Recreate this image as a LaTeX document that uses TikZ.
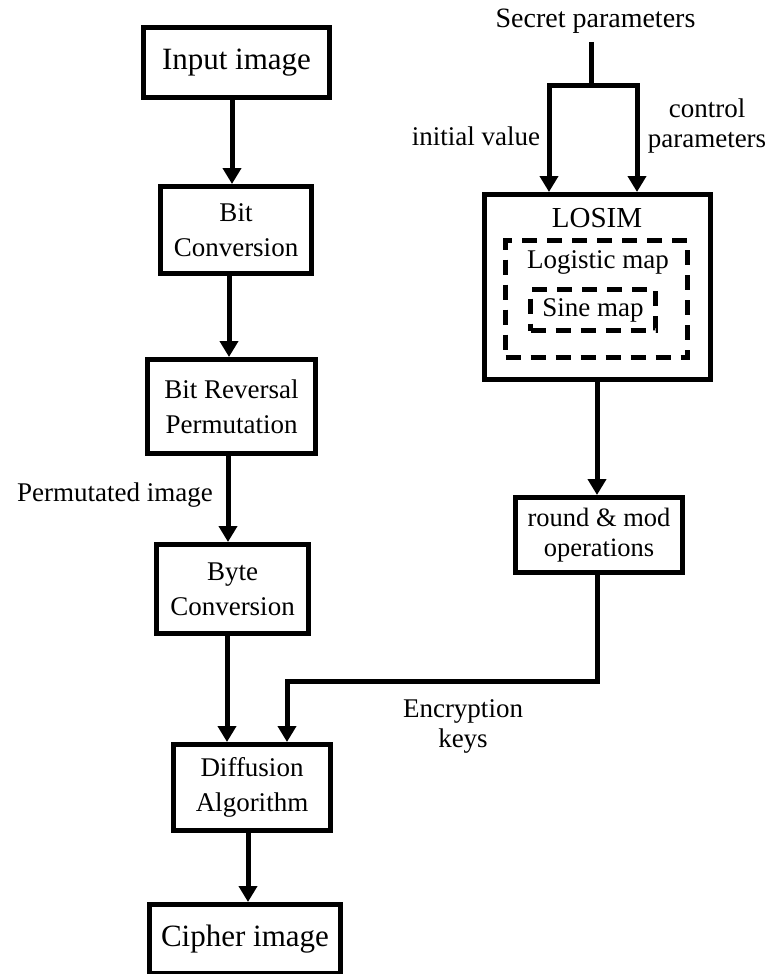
\documentclass[tikz,border=0pt]{standalone}
\usepackage{fontspec}
\setmainfont{Liberation Serif}
\usetikzlibrary{arrows.meta}
\tikzset{
  box/.style={draw, line width=5pt, align=center, inner sep=0pt, font=\fontsize{27}{35}\selectfont},
  bigbox/.style={box, font=\fontsize{31}{35}\selectfont},
  dbox/.style={draw, line width=5pt, dash pattern=on 15pt off 10pt, inner sep=0pt, align=center, font=\fontsize{27}{35}\selectfont},
  arr/.style={line width=5pt, -{Triangle[length=16pt,width=18pt]}},
  plain/.style={line width=5pt},
  lbl/.style={font=\fontsize{27}{30}\selectfont, align=center, inner sep=0pt},
}
\begin{document}
\begin{tikzpicture}[x=1pt,y=-1pt]
\useasboundingbox (0,0) rectangle (774,974);
\clip (0,0) rectangle (774,974);
% left column
\node[bigbox, minimum width=186, minimum height=70] (inp) at (236.5,62.5) {Input image};
\node[box, minimum width=151, minimum height=87] (bitc) at (236,230) {Bit\\Conversion};
\node[box, minimum width=168, minimum height=94] (bitrev) at (231.5,406.5) {Bit Reversal\\Permutation};
\node[box, minimum width=152, minimum height=89] (byte) at (232.5,589) {Byte\\Conversion};
\node[box, minimum width=157, minimum height=86] (diff) at (252,787.5) {Diffusion\\Algorithm};
\node[bigbox, minimum width=191, minimum height=69] (cipher) at (245,939) {Cipher image};
% right column
\node[box, minimum width=226, minimum height=185] (losim) at (597.5,287) {};
\node[inner sep=0pt, font=\fontsize{29}{35}\selectfont] (losimt) at (597,218) {LOSIM};
\node[dbox, minimum width=182, minimum height=117] (logi) at (596.5,299) {};
\node[inner sep=0pt, font=\fontsize{27}{35}\selectfont] (logit) at (598,262) {Logistic map};
\node[dbox, minimum width=125, minimum height=41] (sine) at (593,310) {Sine map};
\node[box, minimum width=167, minimum height=75, font=\fontsize{26.5}{30}\selectfont] (round) at (599,535) {round \& mod\\operations};
% labels
\node[lbl, font=\fontsize{28}{30}\selectfont, anchor=base] (secret) at (595.5,28) {Secret parameters};
\node[lbl, anchor=base] (initv) at (476,145) {initial value};
\node[lbl] (ctrl) at (707,125.8) {control\\parameters};
\node[lbl, anchor=base] (perm) at (115,501) {Permutated image};
\node[lbl] (keys) at (463,726.8) {Encryption\\keys};
% connectors
\coordinate (stem) at (591,42);
\coordinate (split) at (591,85.5);
\draw[plain] (stem) -- (split);
\draw[arr] (split) -| ([xshift=-48.5pt]losim.north);
\draw[arr] (split) -| ([xshift=39.5pt]losim.north);
\draw[arr] ([xshift=-0.5pt]losim.south) -- ([xshift=-0.5pt]losim.south |- round.north);
\draw[arr] ([xshift=-2pt]round.south) -- ++(0,106) -| ([xshift=35pt]diff.north);
\draw[arr] ([xshift=-4.5pt]inp.south) -- ([xshift=-4.5pt]inp.south |- bitc.north);
\draw[arr] ([xshift=-7pt]bitc.south) -- ([xshift=-7pt]bitc.south |- bitrev.north);
\draw[arr] ([xshift=-3.5pt]bitrev.south) -- ([xshift=-3.5pt]bitrev.south |- byte.north);
\draw[arr] ([xshift=-5.5pt]byte.south) -- ([xshift=-5.5pt]byte.south |- diff.north);
\draw[arr] ([xshift=-4pt]diff.south) -- ([xshift=-4pt]diff.south |- cipher.north);
\end{tikzpicture}
\end{document}
